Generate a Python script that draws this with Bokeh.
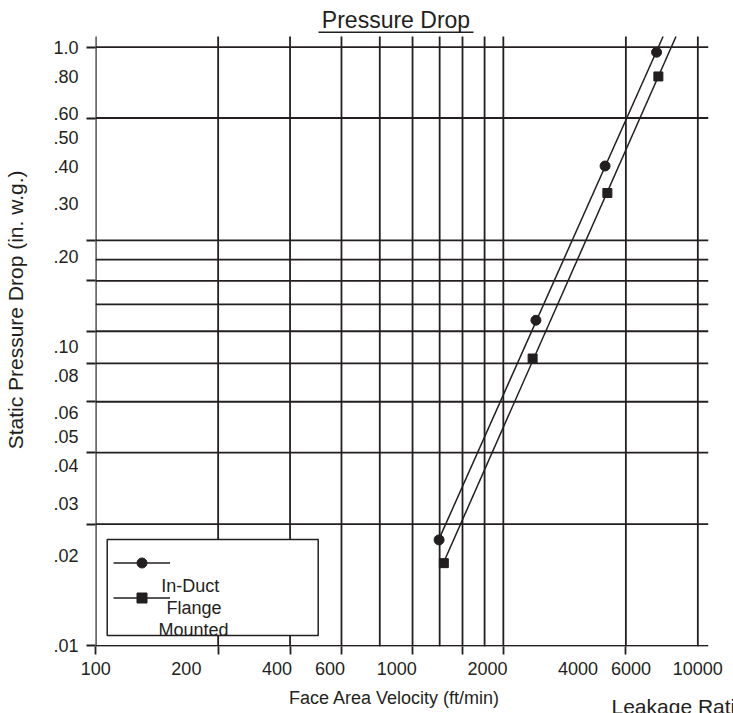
import numpy as np
from bokeh.plotting import figure
from bokeh.models import (Range1d, FixedTicker, LogAxis, Label, BoxAnnotation,
                          Legend, LegendItem, Title)
from bokeh.core.properties import value
from bokeh.embed import file_html
from bokeh.resources import INLINE

# ---------------- data ----------------
in_duct_velocity = [1382, 2898, 4919, 7294]
in_duct_pressure = [0.0226, 0.1224, 0.401, 0.962]

flange_velocity = [1433, 2826, 5006, 7395]
flange_pressure = [0.0189, 0.0912, 0.3257, 0.7984]

x_tick_values = [100, 200, 400, 600, 1000, 2000, 4000, 6000, 10000]
x_tick_labels = ["100", "200", "400", "600", "1000", "2000", "4000", "6000", "10000"]
y_tick_values = [1.0, 0.8, 0.6, 0.5, 0.4, 0.3, 0.2, 0.1, 0.08, 0.06, 0.05, 0.04, 0.03, 0.02, 0.01]
y_tick_labels = ["1.0", ".80", ".60", ".50", ".40", ".30", ".20", ".10", ".08", ".06",
                 ".05", ".04", ".03", ".02", ".01"]

# chart rulings as drawn (irregular)
x_grid_lines = [100, 255, 442, 655, 878, 1128, 1388, 1653, 1957, 2259, 5767, 10000]
x_grid_ticks = [100, 255, 442, 655, 1128, 1653, 2259, 5767]
y_grid_lines = [1.0, 0.58, 0.2264, 0.1952, 0.1656, 0.1384, 0.1125, 0.0878, 0.0654,
                0.0442, 0.0255, 0.01]
y_grid_ticks = [1.0, 0.58, 0.2264, 0.1656, 0.1125, 0.0878, 0.0654, 0.0442, 0.0255, 0.01]

title_text = "Pressure Drop"
x_title = "Face Area Velocity (ft/min)"
y_title = "Static Pressure Drop (in. w.g.)"
legend_lines = ["In-Duct", "Flange", "Mounted"]
footer_text = "Leakage Rati"

# ---------------- style ----------------
INK = "#231f20"
FONT = "Liberation Sans"
NB = "\u00a0"
X0, X1 = 99.8, 10850
Y0, Y1 = 0.009954, 1.4102   # frame reaches near the page top (title lives inside)
RULE_TOP = 1.0858            # rulings and curves stop a little above the 1.0 line

p = figure(width=733, height=713, x_axis_type="log", y_axis_type="log",
           x_range=Range1d(X0, X1), y_range=Range1d(Y0, Y1),
           output_backend="svg", toolbar_location=None,
           min_border_left=95, min_border_right=25, min_border_top=2, min_border_bottom=67)
p.outline_line_color = None
p.background_fill_color = "white"
p.border_fill_color = "white"
p.xgrid.visible = False
p.ygrid.visible = False

# rulings
n_v = len(x_grid_lines)
p.segment(x0=x_grid_lines, y0=[Y0] * n_v, x1=x_grid_lines, y1=[RULE_TOP] * n_v,
          line_color=INK, line_width=1.8)
n_h = len(y_grid_lines)
p.segment(x0=[X0] * n_h, y0=y_grid_lines, x1=[X1] * n_h, y1=y_grid_lines,
          line_color=INK, line_width=1.8)

# inner axes: only the short ruling stubs
xa = p.xaxis[0]
xa.ticker = FixedTicker(ticks=x_grid_ticks)
ya = p.yaxis[0]
ya.ticker = FixedTicker(ticks=y_grid_ticks)
for ax, out in ((xa, 8), (ya, 9)):
    ax.axis_line_color = None
    ax.major_tick_in = 0
    ax.major_tick_out = out
    ax.major_tick_line_color = INK
    ax.major_tick_line_width = 1.8
    ax.minor_tick_line_color = None
    ax.major_label_text_font_size = "0px"
    ax.major_label_text_color = None
    ax.major_label_standoff = 0

# outer axes: labels + axis titles
def label_axis(vals, labels, standoff):
    ax = LogAxis(ticker=FixedTicker(ticks=vals),
                 major_label_overrides={v: t for v, t in zip(vals, labels)})
    ax.axis_line_color = None
    ax.major_tick_line_color = None
    ax.minor_tick_line_color = None
    ax.major_label_text_font = FONT
    ax.major_label_text_font_size = "18px"
    ax.major_label_text_color = INK
    ax.major_label_standoff = standoff
    ax.axis_label_text_font = FONT
    ax.axis_label_text_font_style = "normal"
    ax.axis_label_text_color = INK
    return ax

bx = label_axis(x_tick_values, x_tick_labels, 1)
bx.axis_label = x_title + NB * 3
bx.axis_label_text_font_size = "18px"
bx.axis_label_standoff = 10
p.add_layout(bx, "below")

ly = label_axis(y_tick_values, y_tick_labels, 2)
ly.axis_label = NB * 5 + y_title
ly.axis_label_text_font_size = "21px"
ly.axis_label_standoff = 23
p.add_layout(ly, "left")

footer = Title(text=footer_text, align="left", offset=516, vertical_align="top",
               standoff=-32, text_font=FONT, text_font_size="21px",
               text_font_style="normal", text_color=INK)
p.add_layout(footer, "below")

# ---------------- series ----------------
def fit_line(xs, ys, y_top):
    lx, ly_ = np.log10(xs), np.log10(ys)
    m, b = np.polyfit(lx, ly_, 1)
    x_top = 10 ** ((np.log10(y_top) - b) / m)
    return [xs[0], x_top], [10 ** (m * lx[0] + b), y_top]

fx, fy = fit_line(in_duct_velocity, in_duct_pressure, RULE_TOP)
l1 = p.line(fx, fy, line_color=INK, line_width=1.5)
s1 = p.scatter(in_duct_velocity, in_duct_pressure, marker="circle", size=10,
               fill_color=INK, line_color=INK)

gx, gy = fit_line(flange_velocity, flange_pressure, RULE_TOP)
l2 = p.line(gx, gy, line_color=INK, line_width=1.5)
s2 = p.scatter(flange_velocity, flange_pressure, marker="square", size=9,
               fill_color=INK, line_color=INK)

def sbox(left, right, bottom, top, **kw):
    return BoxAnnotation(left=left, right=right, bottom=bottom, top=top,
                         left_units="screen", right_units="screen",
                         top_units="screen", bottom_units="screen", **kw)

# ---------------- legend ----------------
p.add_layout(sbox(11.7, 222.7, 11, 107, fill_color="white", fill_alpha=1.0,
                  line_color=INK, line_width=1.5, line_alpha=1.0))

legend = Legend(items=[LegendItem(label=value(""), renderers=[l1, s1]),
                       LegendItem(label=value(""), renderers=[l2, s2])],
                location=(17.5, 35.7), padding=5, spacing=10, margin=0,
                glyph_width=57, glyph_height=25, label_height=25, label_width=10,
                label_standoff=0, border_line_color=None, background_fill_alpha=0)
p.add_layout(legend)

def lab(x, y, text, size, align="center", level="annotation"):
    p.add_layout(Label(x=x, y=y, x_units="screen", y_units="screen", text=text,
                       text_font=FONT, text_font_size=size, text_color=INK,
                       text_align=align, text_baseline="middle", level=level))

lab(94.7, 61, legend_lines[0], "18px")
lab(98.5, 39, legend_lines[1], "18px")
lab(98, 17, legend_lines[2], "18px")

# chart title with underline
lab(300.5, 627, title_text, "23px", level="overlay")
p.add_layout(sbox(223, 378, 613.6, 615.0, fill_color=INK, fill_alpha=1.0,
                  line_color=None, level="overlay"))

open("out.html", "w").write(file_html(p, INLINE))
